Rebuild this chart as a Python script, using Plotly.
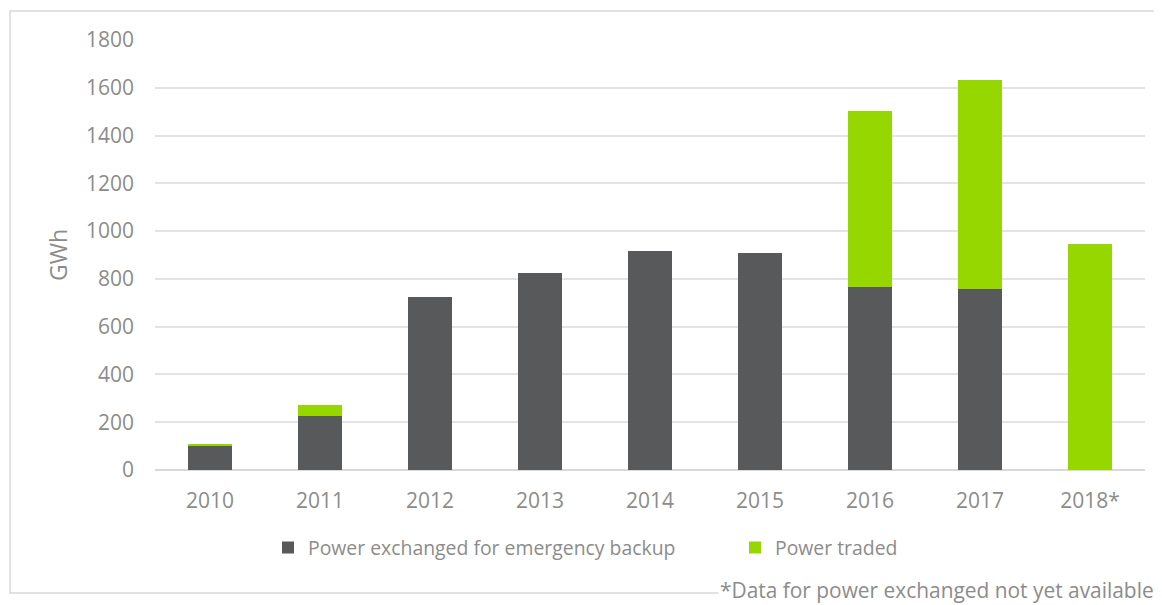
import plotly.graph_objects as go

years = ["2010", "2011", "2012", "2013", "2014", "2015", "2016", "2017", "2018*"]
backup = [103, 225, 726, 825, 916, 908, 768, 757, 0]
traded = [5, 48, 0, 0, 0, 0, 734, 877, 948]
y_ticks = [0, 200, 400, 600, 800, 1000, 1200, 1400, 1600, 1800]

# page body adds an 8px offset; work in reference pixel coords and shift
OFF = 8
W, H = 1162 - OFF, 605 - OFF
L, R, T, B = 155 - OFF, 17, 40 - OFF, 135  # in figure coords
pw, ph = W - L - R, H - T - B

def px(x):
    return (x - OFF - L) / pw

def py(y):
    return (H - B - (y - OFF)) / ph

FONT = "Open Sans"
GRAY = "#8c8c8c"

fig = go.Figure()
fig.add_trace(go.Bar(x=years, y=backup, name="Power exchanged for emergency backup",
                     marker=dict(color="#58595b", line=dict(width=0))))
fig.add_trace(go.Bar(x=years, y=traded, name="Power traded",
                     marker=dict(color="#97d700", line=dict(width=0))))

fig.update_layout(
    width=W, height=H,
    margin=dict(l=L, r=R, t=T, b=B, autoexpand=False),
    barmode="stack", bargap=0.6,
    plot_bgcolor="white", paper_bgcolor="white",
    font=dict(family=FONT, size=19, color=GRAY),
    showlegend=True,
    legend=dict(orientation="h", x=px(282 - 14), xanchor="left", y=py(548), yanchor="middle",
                font=dict(family=FONT, size=19.4, color=GRAY), traceorder="normal",
                itemwidth=30, entrywidth=422, entrywidthmode="pixels",
                itemclick=False, bgcolor="rgba(0,0,0,0)"),
    xaxis=dict(showgrid=False, showline=False, ticks="", ticklabelstandoff=16,
               tickfont=dict(family=FONT, size=21, color=GRAY)),
    yaxis=dict(range=[0, 1800], tickvals=y_ticks, showgrid=True, gridcolor="#e3e3e3",
               gridwidth=1.5, zeroline=True, zerolinecolor="#d9d9d9", zerolinewidth=1.5,
               showline=False, ticks="", ticklabelstandoff=20,
               tickfont=dict(family=FONT, size=21, color=GRAY),
               title=dict(text="GWh", standoff=11, font=dict(family=FONT, size=23, color=GRAY))),
    shapes=[dict(type="rect", xref="paper", yref="paper",
                 x0=px(10), x1=px(1175), y0=py(593), y1=py(11),
                 line=dict(color="#d9d9d9", width=1.5), fillcolor="rgba(0,0,0,0)", layer="below")],
    annotations=[dict(text="*Data for power exchanged not yet available", xref="paper", yref="paper",
                      x=px(1156), y=py(590), xanchor="right", yanchor="middle", showarrow=False,
                      bgcolor="white", font=dict(family=FONT, size=20.9, color=GRAY))],
)

fig.write_html("out.html")
